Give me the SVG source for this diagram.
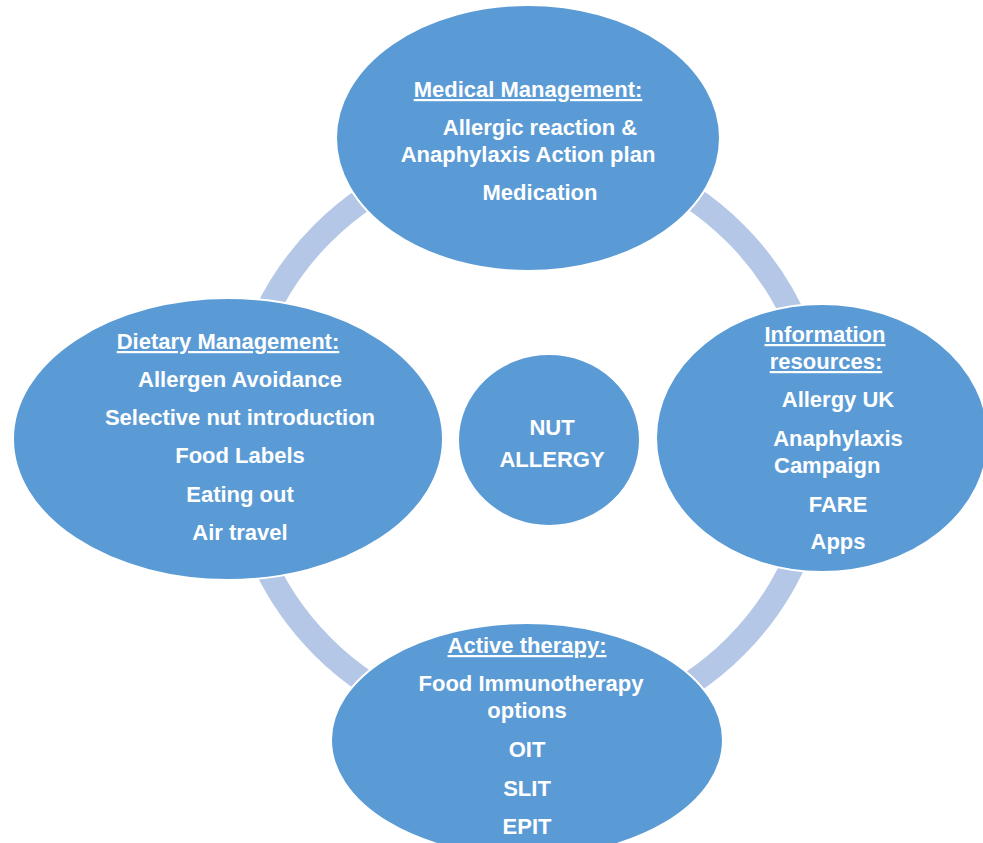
<svg xmlns="http://www.w3.org/2000/svg" width="983" height="843" viewBox="0 0 983 843">
<style>
.node{fill:#5B9BD5;stroke:#FFFFFF;stroke-width:2}
.t{font-family:"Liberation Sans",Arial,sans-serif;font-weight:bold;font-size:22px;fill:#FFFFFF;text-anchor:middle}
.u{text-decoration:underline}
.ring{fill:none;stroke:#B4C7E7;stroke-width:24}
</style>
<rect width="983" height="843" fill="#FFFFFF"/>
<g id="connectors">
<circle class="ring" cx="529" cy="440" r="292"/>
</g>
<g id="medical">
<ellipse class="node" cx="528" cy="138" rx="192" ry="133"/>
<text class="t u" x="528" y="97">Medical Management:</text>
<text class="t" x="540" y="135">Allergic reaction &amp;</text>
<text class="t" x="528" y="162">Anaphylaxis Action plan</text>
<text class="t" x="540" y="200">Medication</text>
</g>
<g id="dietary">
<ellipse class="node" cx="228" cy="439" rx="215" ry="141"/>
<text class="t u" x="228" y="349">Dietary Management:</text>
<text class="t" x="240" y="387">Allergen Avoidance</text>
<text class="t" x="240" y="425">Selective nut introduction</text>
<text class="t" x="240" y="463">Food Labels</text>
<text class="t" x="240" y="502">Eating out</text>
<text class="t" x="240" y="540">Air travel</text>
</g>
<g id="information">
<ellipse class="node" cx="822" cy="438" rx="166" ry="134"/>
<text class="t u" x="825" y="342">Information</text>
<text class="t u" x="826" y="369">resources:</text>
<text class="t" x="838" y="407">Allergy UK</text>
<text class="t" x="838" y="446">Anaphylaxis</text>
<text class="t" x="774" y="473" style="text-anchor:start">Campaign</text>
<text class="t" x="838" y="512">FARE</text>
<text class="t" x="838" y="549">Apps</text>
</g>
<g id="active">
<ellipse class="node" cx="527" cy="740" rx="196" ry="117"/>
<text class="t u" x="527" y="653">Active therapy:</text>
<text class="t" x="531" y="691">Food Immunotherapy</text>
<text class="t" x="527" y="718">options</text>
<text class="t" x="527" y="757">OIT</text>
<text class="t" x="527" y="796">SLIT</text>
<text class="t" x="527" y="834">EPIT</text>
</g>
<g id="center">
<ellipse class="node" cx="549" cy="440" rx="91" ry="86"/>
<text class="t" x="552" y="435">NUT</text>
<text class="t" x="552" y="467">ALLERGY</text>
</g>
</svg>
